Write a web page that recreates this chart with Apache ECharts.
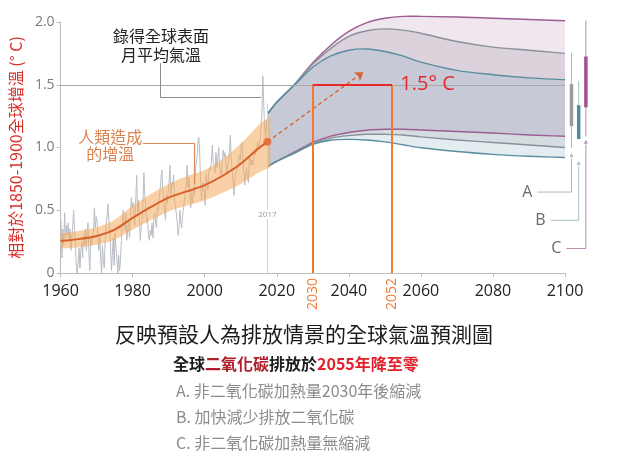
<!DOCTYPE html>
<html><head><meta charset="utf-8">
<script src="https://cdn.jsdelivr.net/npm/echarts@6/dist/echarts.min.js"></script>
<style>html,body{margin:0;padding:0;background:#fff}#c{width:640px;height:460px}</style>
</head><body><div id="c"></div>
<script>
const NUMF = "'Open Sans','Noto Sans CJK TC',sans-serif";
const CJKF = "'Noto Sans CJK TC','Noto Sans',sans-serif";

// ---- axes ----
const xMin = 1960, xMax = 2100, xStep = 20;
const yMin = 0, yMax = 2.0, yStep = 0.5;

const obsStartYear = 1960;
const obsPerYear = 4;
const obsTemp = [
 0.42,0.12,0.35,0.22, 0.48,0.28,0.38,0.30, 0.40,0.25,0.35,0.18, 0.28,0.38,0.50,0.35,
 0.22,0.05,0.00,0.08, 0.20,0.04,0.18,0.25, 0.12,0.30,0.22,0.35, 0.18,0.32,0.40,0.15,
 0.02,0.28,0.22,0.30, 0.32,0.52,0.36,0.45, 0.42,0.28,0.18,0.30, 0.12,0.00,0.22,0.10,
 0.04,0.28,0.38,0.45, 0.55,0.42,0.36,0.20, 0.02,0.16,0.28,0.06, 0.32,0.20,0.12,0.00,
 0.14,0.02,0.10,0.26, 0.40,0.50,0.38,0.34, 0.48,0.26,0.34,0.42, 0.28,0.44,0.60,0.52,
 0.56,0.44,0.38,0.60, 0.78,0.48,0.58,0.42, 0.26,0.36,0.42,0.56, 0.80,0.62,0.54,0.40,
 0.44,0.30,0.26,0.34, 0.30,0.40,0.28,0.42, 0.48,0.40,0.36,0.52, 0.50,0.60,0.66,0.76,
 0.82,0.64,0.58,0.48, 0.42,0.62,0.56,0.66, 0.74,0.86,0.60,0.72, 0.70,0.78,0.58,0.52,
 0.48,0.40,0.30,0.36, 0.50,0.40,0.36,0.46, 0.52,0.58,0.66,0.70, 0.86,0.68,0.76,0.62,
 0.52,0.64,0.56,0.66, 0.62,0.78,0.88,0.92, 1.04,1.08,0.94,0.72, 0.58,0.70,0.72,0.64,
 0.54,0.78,0.74,0.66, 0.80,0.84,0.82,0.90, 1.02,0.88,0.86,0.80, 0.96,0.84,0.90,1.00,
 0.86,0.80,0.78,0.90, 0.98,0.92,0.96,0.90, 0.78,0.86,0.90,0.98, 1.10,0.90,0.82,0.72,
 0.62,0.76,0.80,0.82, 0.84,0.86,0.94,0.90, 1.02,1.04,0.90,0.80, 0.70,0.80,0.84,0.76,
 0.72,0.90,0.92,0.86, 0.90,0.86,0.92,0.98, 0.94,1.00,1.04,1.00, 1.02,1.06,1.16,1.28,
 1.57,1.36,1.14,1.08, 1.22,1.10,1.04,1.14
];

// ---- human-induced warming (line + likely range) ----
const humanYears   = [1960,1965,1970,1975,1980,1985,1990,1995,2000,2005,2010,2015,2017.4];
const humanWarming = [0.255,0.27,0.295,0.345,0.44,0.525,0.60,0.65,0.70,0.775,0.87,0.995,1.045];
const bandYears = [1960,1965,1970,1975,1980,1985,1990,1995,2000,2005,2010,2015,2018.2];
const bandLow   = [0.195,0.205,0.225,0.265,0.345,0.42,0.49,0.535,0.58,0.64,0.71,0.80,0.84];
const bandHigh  = [0.315,0.335,0.365,0.425,0.535,0.63,0.71,0.77,0.82,0.91,1.03,1.18,1.25];

// ---- projections (A gray, B blue, C purple) ----
const projYears = [2017.5,2020,2025,2030,2035,2040,2045,2050,2055,2060,2070,2080,2090,2100];
const bTop = [1.27,1.36,1.50,1.64,1.73,1.775,1.785,1.765,1.73,1.68,1.615,1.58,1.555,1.54];
const aTop = [1.27,1.36,1.505,1.665,1.79,1.885,1.93,1.945,1.935,1.91,1.845,1.80,1.775,1.75];
const cTop = [1.27,1.36,1.505,1.675,1.815,1.925,1.995,2.03,2.045,2.045,2.04,2.03,2.02,2.01];
const cBot = [0.85,0.89,0.965,1.04,1.09,1.12,1.138,1.145,1.145,1.14,1.128,1.115,1.10,1.09];
const aBot = [0.85,0.89,0.96,1.035,1.075,1.095,1.105,1.105,1.10,1.085,1.06,1.04,1.02,1.0];
const bBot = [0.85,0.89,0.955,1.025,1.058,1.065,1.06,1.045,1.022,0.998,0.968,0.945,0.93,0.92];

// ---- annotations ----
const trendArrow = [[2017.4,1.045],[2044,1.6]];
const limitYears = [2030, 2052];
const limitTemp = 1.5;
const year2017 = 2017.4;
const year2017Top = 1.35;
const obsLeader = [[1987.7,1.672],[1987.7,1.398],[2015.6,1.398]];
const humanLeader = [[1982.8,1.034],[1997.1,1.034],[1997.1,0.71]];

// ---- range bars at 2100 ----
const rangeLabels = ['A','B','C'];
const rangeX = [2101.8, 2103.8, 2105.8];
const rangeThin = [[0.995,1.755],[1.065,1.53],[1.09,2.01]];
const rangeThick = [[1.17,1.505],[1.068,1.337],[1.32,1.725]];
const rangeArrowY = [0.94, 0.876, 1.046];
const rangeLeaderY = [0.645, 0.42, 0.195];
const rangeLabelX = [2092.3, 2096.0, 2100.4];

// ---- texts ----
const titleText = '反映預設人為排放情景的全球氣溫預測圖';
const subParts = ['全球','二氧化碳','排放於','2055年降至零'];
const scenarioTexts = ['A. 非二氧化碳加熱量2030年後縮減','B. 加快減少排放二氧化碳','C. 非二氧化碳加熱量無縮減'];
const yName = '相對於1850-1900全球增溫 (° C)';

// ================== build ==================
const obsData = obsTemp.map((v,i)=>[obsStartYear + (i+0.5)/obsPerYear, v]);

// smooth curve through pixel points (monotone-in-x cubic Hermite)
function segs(pts){
  const n = pts.length, m = [];
  for (let i=0;i<n;i++){
    if (i===0) m.push((pts[1][1]-pts[0][1])/(pts[1][0]-pts[0][0]));
    else if (i===n-1) m.push((pts[n-1][1]-pts[n-2][1])/(pts[n-1][0]-pts[n-2][0]));
    else m.push((pts[i+1][1]-pts[i-1][1])/(pts[i+1][0]-pts[i-1][0]));
  }
  const out = [];
  for (let i=0;i<n-1;i++){
    const h = pts[i+1][0]-pts[i][0];
    out.push([pts[i], [pts[i][0]+h/3, pts[i][1]+m[i]*h/3], [pts[i+1][0]-h/3, pts[i+1][1]-m[i+1]*h/3], pts[i+1]]);
  }
  return out;
}
const f = (p)=> p[0].toFixed(2)+' '+p[1].toFixed(2);
function fwd(pts){ const s = segs(pts); return 'M '+f(pts[0]) + s.map(q=>' C '+f(q[1])+' '+f(q[2])+' '+f(q[3])).join(''); }
function bwd(pts){ const s = segs(pts).reverse(); return ' L '+f(pts[pts.length-1]) + s.map(q=>' C '+f(q[2])+' '+f(q[1])+' '+f(q[0])).join(''); }
function bandPath(api, xs, hi, lo){
  const P = hi.map((v,i)=>api.coord([xs[i], v]));
  const Q = lo.map((v,i)=>api.coord([xs[i], v]));
  return fwd(P) + bwd(Q) + ' Z';
}
function linePath(api, xs, ys){ return fwd(ys.map((v,i)=>api.coord([xs[i], v]))); }

const projRegions = [
  [cTop, aTop, '#efe6ee'],
  [aTop, bTop, '#dcd2dc'],
  [bTop, cBot, '#c7cad6'],
  [cBot, aBot, '#d3dde0'],
  [aBot, bBot, '#e3edf0']
];
const projLines = [[cTop,'#9c5c92'],[cBot,'#9c5c92'],[aTop,'#8b8f9a'],[aBot,'#8b8f9a'],[bTop,'#5a8da1'],[bBot,'#5a8da1']];

const chart = echarts.init(document.getElementById('c'), null, {renderer:'canvas'});
const series = [];

series.push({type:'line', data: obsData, showSymbol:false, smooth:false, z:2,
  lineStyle:{color:'#b9bdc5', width:1}, silent:true});

// projections
series.push({type:'custom', z:3, silent:true, clip:false,
  data:[[projYears[0], cTop[0]]],
  renderItem: function(params, api){
    const ch = [];
    projRegions.forEach(r=> ch.push({type:'path', shape:{pathData: bandPath(api, projYears, r[0], r[1])}, style:{fill:r[2], stroke:null}}));
    projLines.forEach(l=> ch.push({type:'path', shape:{pathData: linePath(api, projYears, l[0])}, style:{fill:null, stroke:l[1], lineWidth:1.4}}));
    return {type:'group', children: ch};
  }});

// human-induced warming band + line
series.push({type:'custom', z:4, silent:true, clip:false,
  data:[[humanYears[0], humanWarming[0]]],
  renderItem: function(params, api){
    return {type:'group', children:[
      {type:'path', shape:{pathData: bandPath(api, bandYears, bandHigh, bandLow)}, style:{fill:'rgba(245,172,95,0.55)', stroke:null}},
      {type:'path', shape:{pathData: linePath(api, humanYears, humanWarming)}, style:{fill:null, stroke:'#d8602a', lineWidth:2}}
    ]};
  }});
series.push({type:'scatter', data:[[humanYears[humanYears.length-1], humanWarming[humanWarming.length-1]]],
  symbolSize:8, itemStyle:{color:'#e0673a'}, z:5, silent:true});

const seg = (pts)=>{ const out=[]; for(let i=0;i<pts.length-1;i++) out.push([{coord:pts[i]},{coord:pts[i+1]}]); return out; };

series.push({type:'line', data:[], z:6, silent:true,
  markLine:{silent:true, symbol:['none','none'], label:{show:false}, animation:false,
    data:[
      [{coord:[xMin,limitTemp], lineStyle:{color:'#a8a8a8', width:1, type:'solid'}},{coord:[xMax,limitTemp]}],
      [{coord:[year2017,0], lineStyle:{color:'#cfcfcf', width:1, type:'solid'}},{coord:[year2017,year2017Top]}],
    ].concat(
      seg(obsLeader).map(s=>[Object.assign({lineStyle:{color:'#8c8c8c',width:1,type:'solid'}},s[0]), s[1]]),
      seg(humanLeader).map(s=>[Object.assign({lineStyle:{color:'#dc8a5a',width:1.2,type:'solid'}},s[0]), s[1]])
    )}});

series.push({type:'line', data:[], z:8, silent:true,
  markLine:{silent:true, symbol:['none','arrow'], symbolSize:8, label:{show:false}, animation:false,
    lineStyle:{color:'#d8602a', width:1.3, type:[4,3]},
    data:[[{coord:trendArrow[0]},{coord:trendArrow[1]}]]}});

series.push({type:'line', data:[], z:9, silent:true,
  markLine:{silent:true, symbol:['none','none'], label:{show:false}, animation:false,
    data:[
      [{coord:[limitYears[0],0], lineStyle:{color:'#f07a30', width:2, type:'solid'}},{coord:[limitYears[0],limitTemp]}],
      [{coord:[limitYears[1],0], lineStyle:{color:'#f07a30', width:2, type:'solid'}},{coord:[limitYears[1],limitTemp]}],
      [{coord:[limitYears[0],limitTemp], lineStyle:{color:'#e8262c', width:2, type:'solid'}},{coord:[limitYears[1],limitTemp]}]
    ]}});

const thinCol = ['#b8b8b8','#a6bec6','#b98cb1'];
const thickCol = ['#9b9b9b','#4e8da2','#a4508f'];
series.push({type:'custom', z:9, silent:true, clip:false,
  data: rangeX.map((x,i)=>[x, rangeThin[i][0], rangeThin[i][1], rangeThick[i][0], rangeThick[i][1], rangeArrowY[i], rangeLeaderY[i], rangeLabelX[i], i]),
  renderItem: function(params, api){
    const x = api.value(0), i = api.value(8);
    const p = (y)=>api.coord([x,y]);
    const t1 = p(api.value(2)), t0 = p(api.value(1));
    const k1 = p(api.value(4)), k0 = p(api.value(3));
    const ar = p(api.value(5)), ld = p(api.value(6));
    const lx = api.coord([api.value(7), api.value(6)]);
    return {type:'group', children:[
      {type:'line', shape:{x1:t1[0],y1:t1[1],x2:t0[0],y2:t0[1]}, style:{stroke:thinCol[i], lineWidth:1}},
      {type:'polyline', shape:{points:[[ar[0],ar[1]+3],[ld[0],ld[1]],[lx[0],lx[1]]]}, style:{stroke:thinCol[i], lineWidth:1, fill:null}},
      {type:'polygon', shape:{points:[[ar[0]-2,ar[1]+2],[ar[0]+2,ar[1]+2],[ar[0],ar[1]-2]]}, style:{fill:thinCol[i]}},
      {type:'line', shape:{x1:k1[0],y1:k1[1],x2:k0[0],y2:k0[1]}, style:{stroke:thickCol[i], lineWidth:3.5}},
      {type:'text', x:lx[0]-5, y:lx[1], style:{text:rangeLabels[i], fill:'#6b6b6b', font:'16px '+NUMF, align:'right', verticalAlign:'middle'}}
    ]};
  }});

const option = {
  animation:false,
  backgroundColor:'#fff',
  grid:{left:48, right:75, top:22, bottom:187, containLabel:false},
  xAxis:{type:'value', min:xMin, max:xMax, interval:xStep,
    axisLine:{show:true, lineStyle:{color:'#bdbdbd', width:1}},
    axisTick:{show:true, length:4, lineStyle:{color:'#bdbdbd'}},
    axisLabel:{color:'#222', fontSize:16, fontFamily:NUMF, margin:10, formatter:(v)=>String(v)},
    splitLine:{show:false}},
  yAxis:{type:'value', min:yMin, max:yMax, interval:yStep,
    name:yName, nameLocation:'middle', nameGap:29,
    nameTextStyle:{color:'#d8302c', fontSize:16, fontFamily:CJKF},
    axisLine:{show:true, lineStyle:{color:'#bdbdbd', width:1}},
    axisTick:{show:true, length:4, lineStyle:{color:'#bdbdbd'}},
    axisLabel:{color:'#7a7a7a', fontSize:14, fontFamily:NUMF, margin:6,
      formatter:(v)=> v===0 ? '0' : v.toFixed(1)},
    splitLine:{show:false}},
  series: series
};
chart.setOption(option);

const px = (x,y)=>chart.convertToPixel({gridIndex:0},[x,y]);
const g = [];
let q = px(1987.9, 1.81);
g.push({type:'text', x:q[0], y:q[1], z:100, style:{text:'錄得全球表面\n月平均氣溫', font:'16px '+CJKF, fill:'#222', align:'center', verticalAlign:'middle', lineHeight:19}});
q = px(1973.8, 1.02);
g.push({type:'text', x:q[0], y:q[1], z:100, style:{text:'人類造成\n的增溫', font:'16px '+CJKF, fill:'#d9824f', align:'center', verticalAlign:'middle', lineHeight:17}});
q = px(2054.3, limitTemp);
g.push({type:'text', x:q[0], y:q[1], z:100, style:{text:'1.5° C', font:'20px '+NUMF, fill:'#e8262c', align:'left', verticalAlign:'middle'}});
q = px(year2017, 0.466);
g.push({type:'text', x:q[0], y:q[1], z:100, style:{text:'2017', font:'8px '+NUMF, fill:'#9a9a9a', align:'center', verticalAlign:'middle', backgroundColor:'#fff', padding:[1,1]}});
limitYears.forEach(yr=>{
  const p = px(yr,0);
  g.push({type:'text', x:p[0], y:p[1]+21, rotation:Math.PI/2, z:100, style:{text:String(yr), font:'14px '+NUMF, fill:'#f07a30', align:'center', verticalAlign:'middle'}});
});
g.push({type:'text', x:304, y:334, z:100, style:{text:titleText, font:'21px '+CJKF, fill:'#1c1c1c', align:'center', verticalAlign:'middle'}});
g.push({type:'text', x:173, y:364, z:100, style:{
  text:'{k|'+subParts[0]+'}{r1|'+subParts[1]+'}{k|'+subParts[2]+'}{r2|'+subParts[3]+'}',
  align:'left', verticalAlign:'middle',
  rich:{k:{font:'bold 16px '+CJKF, fill:'#1c1c1c'}, r1:{font:'bold 16px '+CJKF, fill:'#b01e2c'}, r2:{font:'bold 16px '+CJKF, fill:'#e4202a'}}}});
scenarioTexts.forEach((t,i)=>{
  g.push({type:'text', x:176, y:391 + i*26, z:100, style:{text:t, font:'16px '+CJKF, fill:'#8c8c8c', align:'left', verticalAlign:'middle'}});
});
chart.setOption({graphic:g});
</script></body></html>
